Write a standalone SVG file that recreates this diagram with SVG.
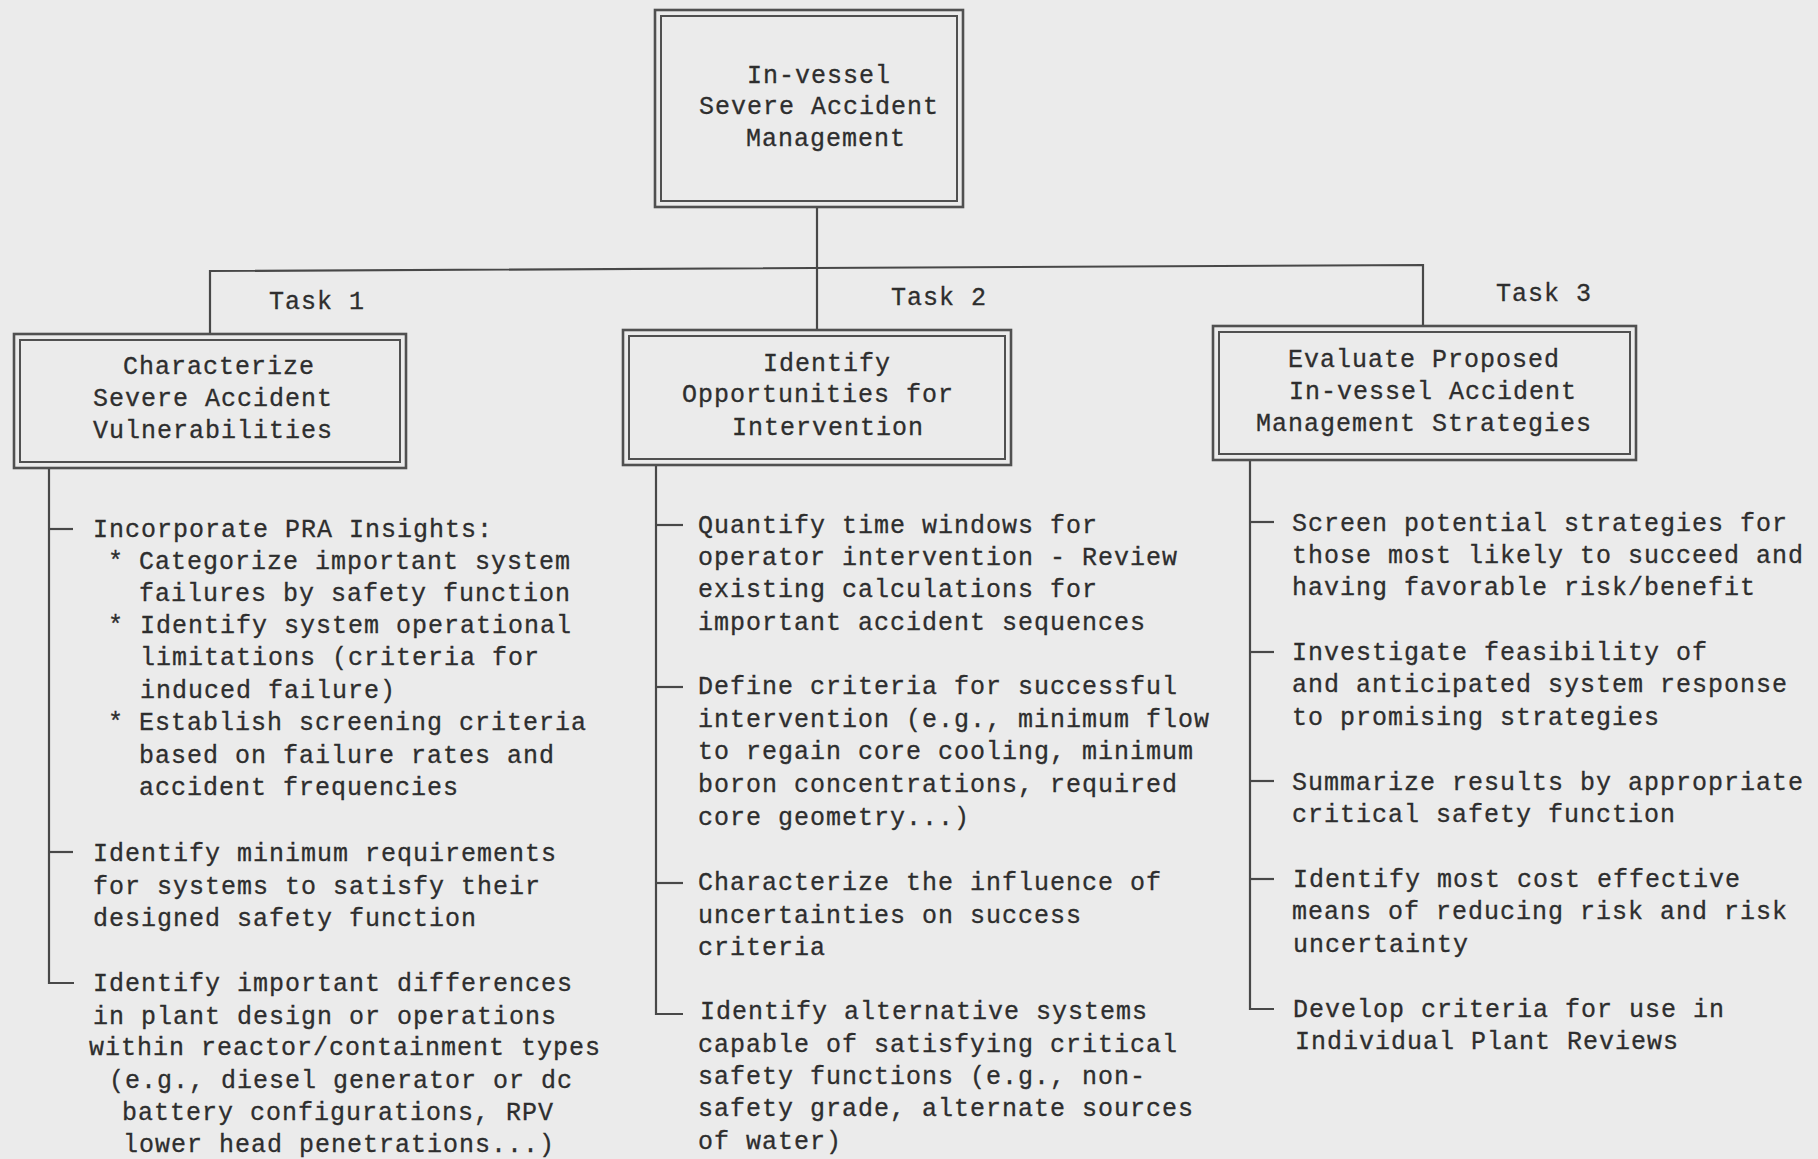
<svg xmlns="http://www.w3.org/2000/svg" width="1818" height="1159" viewBox="0 0 1818 1159">
<style>
.bg{fill:#ebebeb}
.ob{fill:none;stroke:#505050;stroke-width:2.6}
.ib{fill:none;stroke:#505050;stroke-width:2}
.ln{fill:none;stroke:#484848;stroke-width:2.2}
text{font-family:"Liberation Mono","DejaVu Sans Mono",monospace;font-size:25px;letter-spacing:1px;fill:#2e2e2e;stroke:#2e2e2e;stroke-width:0.3}
</style>
<rect class="bg" x="0" y="0" width="1818" height="1159"/>
<g id="connectors">
<polyline class="ln" points="817,207 817,330"/>
<polyline class="ln" points="210,334 210,271 1423,265 1423,326"/>
<polyline class="ln" points="49,468 49,983 74,983"/>
<line class="ln" x1="49" y1="529" x2="73" y2="529"/>
<line class="ln" x1="49" y1="852" x2="73" y2="852"/>
<polyline class="ln" points="656,465 656,1014 683,1014"/>
<line class="ln" x1="656" y1="525" x2="683" y2="525"/>
<line class="ln" x1="656" y1="687" x2="683" y2="687"/>
<line class="ln" x1="656" y1="883" x2="683" y2="883"/>
<polyline class="ln" points="1250,460 1250,1009 1274,1009"/>
<line class="ln" x1="1250" y1="522" x2="1274" y2="522"/>
<line class="ln" x1="1250" y1="652" x2="1274" y2="652"/>
<line class="ln" x1="1250" y1="781" x2="1274" y2="781"/>
<line class="ln" x1="1250" y1="879" x2="1274" y2="879"/>
</g>
<g id="root">
<rect class="ob" x="655" y="10" width="308" height="197"/>
<rect class="ib" x="661" y="16" width="296" height="185"/>
<text x="747" y="83">In-vessel</text>
<text x="699" y="114">Severe Accident</text>
<text x="746" y="146">Management</text>
</g>
<g id="task-labels">
<text x="269" y="309">Task 1</text>
<text x="891" y="305">Task 2</text>
<text x="1496" y="301">Task 3</text>
</g>
<g id="task1">
<rect class="ob" x="14" y="334" width="392" height="134"/>
<rect class="ib" x="20" y="340" width="380" height="122"/>
<text x="123" y="374">Characterize</text>
<text x="93" y="406">Severe Accident</text>
<text x="93" y="438">Vulnerabilities</text>
</g>
<g id="task2">
<rect class="ob" x="623" y="330" width="388" height="135"/>
<rect class="ib" x="629" y="336" width="376" height="123"/>
<text x="763" y="371">Identify</text>
<text x="682" y="402">Opportunities for</text>
<text x="732" y="435">Intervention</text>
</g>
<g id="task3">
<rect class="ob" x="1213" y="326" width="423" height="134"/>
<rect class="ib" x="1219" y="332" width="411" height="122"/>
<text x="1288" y="367">Evaluate Proposed</text>
<text x="1289" y="399">In-vessel Accident</text>
<text x="1256" y="431">Management Strategies</text>
</g>
<g id="task1-items">
<text x="93" y="537">Incorporate PRA Insights:</text>
<text y="569"><tspan x="108">*</tspan><tspan x="139">Categorize important system</tspan></text>
<text x="139" y="601">failures by safety function</text>
<text y="633"><tspan x="108">*</tspan><tspan x="140">Identify system operational</tspan></text>
<text x="140" y="665">limitations (criteria for</text>
<text x="140" y="698">induced failure)</text>
<text y="730"><tspan x="108">*</tspan><tspan x="139">Establish screening criteria</tspan></text>
<text x="139" y="763">based on failure rates and</text>
<text x="139" y="795">accident frequencies</text>
<text x="93" y="861">Identify minimum requirements</text>
<text x="93" y="894">for systems to satisfy their</text>
<text x="93" y="926">designed safety function</text>
<text x="93" y="991">Identify important differences</text>
<text x="93" y="1024">in plant design or operations</text>
<text x="89" y="1055">within reactor/containment types</text>
<text x="109" y="1088">(e.g., diesel generator or dc</text>
<text x="122" y="1120">battery configurations, RPV</text>
<text x="123" y="1152">lower head penetrations...)</text>
</g>
<g id="task2-items">
<text x="698" y="533">Quantify time windows for</text>
<text x="698" y="565">operator intervention - Review</text>
<text x="698" y="597">existing calculations for</text>
<text x="698" y="630">important accident sequences</text>
<text x="698" y="694">Define criteria for successful</text>
<text x="698" y="727">intervention (e.g., minimum flow</text>
<text x="698" y="759">to regain core cooling, minimum</text>
<text x="698" y="792">boron concentrations, required</text>
<text x="698" y="825">core geometry...)</text>
<text x="698" y="890">Characterize the influence of</text>
<text x="698" y="923">uncertainties on success</text>
<text x="698" y="955">criteria</text>
<text x="700" y="1019">Identify alternative systems</text>
<text x="698" y="1052">capable of satisfying critical</text>
<text x="698" y="1084">safety functions (e.g., non-</text>
<text x="698" y="1116">safety grade, alternate sources</text>
<text x="698" y="1149">of water)</text>
</g>
<g id="task3-items">
<text x="1292" y="531">Screen potential strategies for</text>
<text x="1292" y="563">those most likely to succeed and</text>
<text x="1292" y="595">having favorable risk/benefit</text>
<text x="1292" y="660">Investigate feasibility of</text>
<text x="1292" y="692">and anticipated system response</text>
<text x="1292" y="725">to promising strategies</text>
<text x="1292" y="790">Summarize results by appropriate</text>
<text x="1292" y="822">critical safety function</text>
<text x="1293" y="887">Identify most cost effective</text>
<text x="1292" y="919">means of reducing risk and risk</text>
<text x="1293" y="952">uncertainty</text>
<text x="1293" y="1017">Develop criteria for use in</text>
<text x="1295" y="1049">Individual Plant Reviews</text>
</g>
</svg>
